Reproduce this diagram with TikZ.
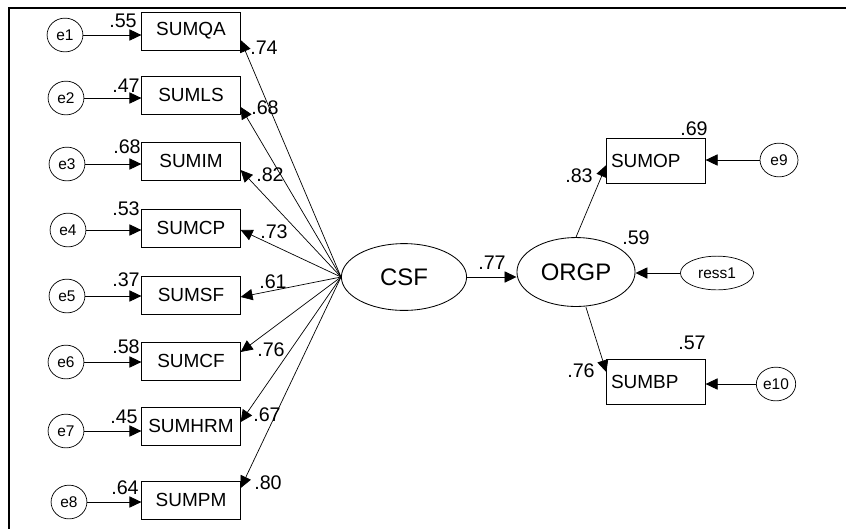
\documentclass[tikz,border=0pt]{standalone}
\usepackage{fontspec}
\setmainfont{Liberation Sans}
\usetikzlibrary{shapes.geometric,arrows.meta}

\begin{document}
\begin{tikzpicture}[x=0.025cm,y=-0.025cm,
  obs/.style={draw,line width=0.6pt,minimum width=70pt,minimum height=27pt,inner sep=1pt,font=\fontsize{13.5}{15}\selectfont},
  obsr/.style={obs,minimum height=32.5pt,text width=64pt,align=left,inner xsep=3pt},
  err/.style={draw,ellipse,line width=0.5pt,minimum width=25.5pt,minimum height=24pt,inner sep=0pt,font=\fontsize{11}{12}\selectfont},
  lat/.style={draw,ellipse,line width=0.6pt,inner sep=0pt,font=\fontsize{17}{19}\selectfont},
  reg/.style={line width=0.5pt,-{Triangle[length=8.5pt,width=8pt]}},
  coef/.style={font=\fontsize{14}{16}\selectfont,inner sep=1pt}]
\useasboundingbox (0,0) rectangle (846,529);

% frame
\draw[line width=1.1pt] (846,8) -- (9,8) -- (9,529);

% indicators of CSF
\node[obs] (qa) at (191,31) {SUMQA};
\node[obs] (ls) at (191,95) {SUMLS};
\node[obs] (im) at (191,161) {SUMIM};
\node[obs] (cp) at (191,228) {SUMCP};
\node[obs] (sf) at (191,295) {SUMSF};
\node[obs] (cf) at (191,361) {SUMCF};
\node[obs] (hrm) at (191,426) {SUMHRM};
\node[obs] (pm) at (191,500) {SUMPM};

% error terms
\node[err] (e1) at (65,35) {e1};
\node[err] (e2) at (66,98) {e2};
\node[err] (e3) at (67,164) {e3};
\node[err] (e4) at (68,230) {e4};
\node[err] (e5) at (67,296) {e5};
\node[err] (e6) at (66,362) {e6};
\node[err] (e7) at (66,431) {e7};
\node[err] (e8) at (69,502) {e8};

\draw[reg] (e1.east) -- (e1.east -| qa.west);
\draw[reg] (e2.east) -- (e2.east -| ls.west);
\draw[reg] (e3.east) -- (e3.east -| im.west);
\draw[reg] (e4.east) -- (e4.east -| cp.west);
\draw[reg] (e5.east) -- (e5.east -| sf.west);
\draw[reg] (e6.east) -- (e6.east -| cf.west);
\draw[reg] (e7.east) -- (e7.east -| hrm.west);
\draw[reg] (e8.east) -- (e8.east -| pm.west);

% squared multiple correlations
\node[coef] (r1) at (123,21) {.55};
\node[coef] (r2) at (126,86) {.47};
\node[coef] (r3) at (127,147) {.68};
\node[coef] (r4) at (126,209) {.53};
\node[coef] (r5) at (126,280) {.37};
\node[coef] (r6) at (126,347) {.58};
\node[coef] (r7) at (124,417) {.45};
\node[coef] (r8) at (125,488) {.64};

% latent variables
\node[lat,minimum width=89pt,minimum height=47.5pt] (csf) at (404,277) {CSF};
\node[lat,minimum width=84pt,minimum height=49pt] (orgp) at (576,272) {ORGP};

% loadings
\draw[reg] (csf.west) -- ([yshift=-6.4pt]qa.east);
\draw[reg] (csf.west) -- ([yshift=-8.5pt]ls.east);
\draw[reg] (csf.west) -- ([yshift=-6.4pt]im.east);
\draw[reg] (csf.west) -- ([yshift=-1.4pt]cp.east);
\draw[reg] (csf.west) -- ([yshift=-1.4pt]sf.east);
\draw[reg] (csf.west) -- ([yshift=6.4pt]cf.east);
\draw[reg] (csf.west) -- ([yshift=2.8pt]hrm.east);
\draw[reg] (csf.west) -- ([yshift=8.5pt]pm.east);

\node[coef] (l1) at (264,48) {.74};
\node[coef] (l2) at (265,108) {.68};
\node[coef] (l3) at (270,175) {.82};
\node[coef] (l4) at (274,232) {.73};
\node[coef] (l5) at (273,282) {.61};
\node[coef] (l6) at (271,350) {.76};
\node[coef] (l7) at (267,415) {.67};
\node[coef] (l8) at (268,483) {.80};

% structural path
\draw[reg] (csf.east) -- (csf.east -| orgp.west);
\node[coef] (b1) at (492,263) {.77};
\node[coef] (r9) at (636,238) {.59};

% indicators of ORGP
\node[obsr] (op) at (656,161) {SUMOP};
\node[obsr] (bp) at (656,382) {SUMBP};
\node[err,minimum width=27pt] (e9) at (779,160) {e9};
\node[err,minimum width=28pt] (e10) at (776,384) {e10};
\node[err,minimum width=52pt] (ress) at (717,273) {ress1};

\draw[reg] (orgp.north) -- ([yshift=-2.8pt]op.west);
\draw[reg] ([xshift=7pt]orgp.south) -- ([yshift=7pt]bp.west);
\draw[reg] (e9.west) -- (e9.west -| op.east);
\draw[reg] (e10.west) -- (e10.west -| bp.east);
\draw[reg] (ress.west) -- (ress.west -| orgp.east);

\node[coef] (l9) at (579,176) {.83};
\node[coef] (l10) at (581,371) {.76};
\node[coef] (r10) at (694,129) {.69};
\node[coef] (r11) at (692,343) {.57};
\end{tikzpicture}
\end{document}
